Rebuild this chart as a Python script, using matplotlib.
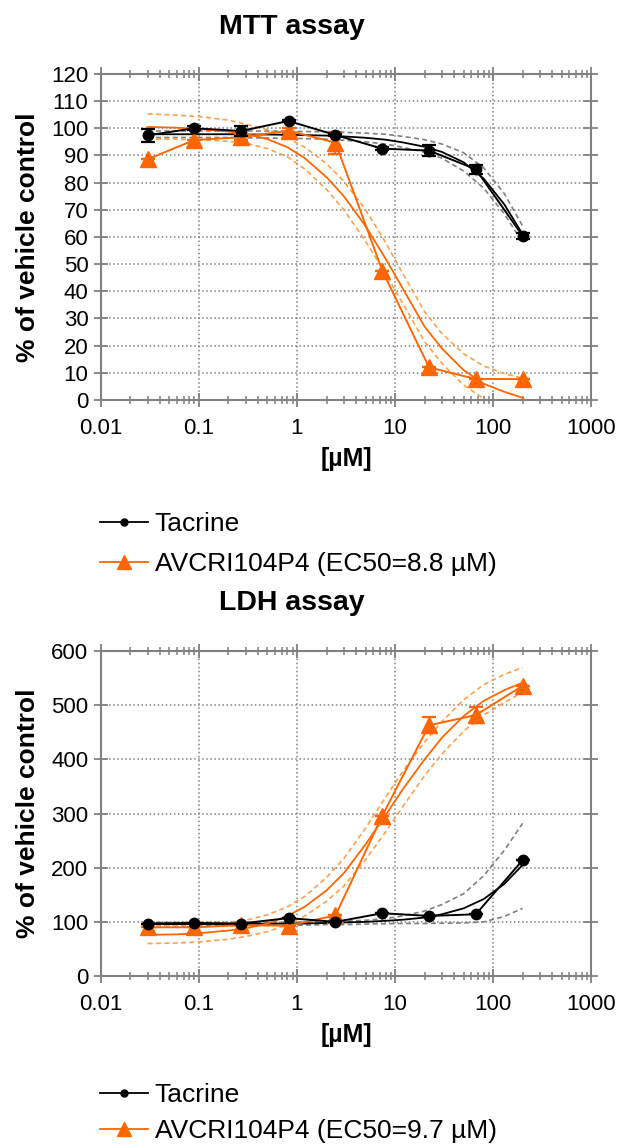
import numpy as np
import matplotlib
matplotlib.use("Agg")
import matplotlib.pyplot as plt
from matplotlib.ticker import FixedLocator, NullFormatter
from matplotlib.lines import Line2D

plt.rcParams['font.family'] = ['Liberation Sans', 'DejaVu Sans']

# concentrations (µM)
conc = [0.03, 0.09, 0.27, 0.82, 2.47, 7.41, 22.2, 66.7, 200]

# MTT assay
mtt_tacrine = [97.4, 100, 99, 102.7, 97.5, 92.5, 91.8, 84.9, 60.4]
mtt_tacrine_err = [2.5, 0.8, 2, 0.5, 0.5, 0.5, 2, 1.7, 1]
mtt_avcri = [88.6, 95.7, 96.7, 99.1, 94.7, 47.6, 12.0, 7.7, 7.7]
mtt_avcri_err = [0, 0, 1, 1, 4, 0, 0, 0, 0]

# LDH assay
ldh_tacrine = [97, 98, 97, 107, 100, 116, 111, 114, 214]
ldh_tacrine_err = [0, 0, 0, 0, 0, 0, 0, 0, 0]
ldh_avcri = [90, 90, 94, 93, 112, 296, 463, 482, 536]
ldh_avcri_err = [0, 0, 0, 0, 0, 0, 15, 15, 0]

# fitted curves and 95% bands
fit_conc = [0.03, 0.06, 0.1, 0.2, 0.3, 0.5, 0.8, 1.2, 2, 3, 5, 8, 12, 20, 30, 50, 80, 130, 200]

mtt_avcri_fit = [100.5, 100.2, 99.7, 98.8, 98, 96, 93, 89, 82, 75, 64, 52, 41, 27, 19, 11, 6, 3, 0.8]
mtt_avcri_hi = [105.3, 104.8, 104.3, 103, 101.5, 99.5, 96.5, 93, 87, 80.5, 70, 58, 46.5, 32.5, 24.5, 17, 12.5, 9.7, 8]
mtt_avcri_lo = [96, 96, 95.7, 95.2, 94.5, 92.5, 89.5, 85, 77.5, 70, 58.5, 46.5, 35.5, 21.5, 13.5, 5.5, 0.5, -4, -7]

mtt_tacrine_fit = [97.8, 97.8, 97.8, 97.8, 97.7, 97.7, 97.6, 97.5, 97.3, 97, 96.5, 95.8, 94.8, 93.2, 91.3, 87.5, 81.5, 72, 61]
mtt_tacrine_hi = [99, 99, 99, 99, 99, 99, 98.9, 98.8, 98.7, 98.5, 98.2, 97.8, 97, 95.8, 94.2, 91, 85.5, 76, 64]
mtt_tacrine_lo = [96.6, 96.6, 96.6, 96.6, 96.5, 96.4, 96.3, 96.2, 96, 95.6, 95, 94.2, 93, 91.2, 89, 84.3, 78, 68.5, 58]

ldh_avcri_fit = [76, 77, 79, 84, 88, 97, 111, 128, 158, 190, 243, 297, 345, 400, 440, 480, 508, 528, 542]
ldh_avcri_hi = [93, 94, 95, 99, 103, 113, 128, 147, 182, 217, 273, 330, 378, 432, 470, 510, 538, 557, 570]
ldh_avcri_lo = [60, 61, 63, 68, 73, 82, 95, 111, 138, 166, 215, 266, 313, 370, 410, 452, 482, 505, 524]

ldh_tacrine_fit = [96, 96, 96, 96, 96.5, 96.5, 97, 97, 98, 99, 100, 102, 104, 108, 114, 125, 142, 170, 205]
ldh_tacrine_hi = [99, 99, 99, 99, 99, 99, 99.5, 99.5, 100, 101, 103, 106, 111, 120, 132, 152, 185, 232, 282]
ldh_tacrine_lo = [93, 93, 93, 93, 93.5, 93.5, 94, 94, 95, 95, 96, 96.5, 97, 97, 97.5, 98, 100, 110, 125]

x_ticks = [0.01, 0.1, 1, 10, 100, 1000]
x_ticklabels = ['0.01', '0.1', '1', '10', '100', '1000']

ORANGE = '#ff6600'
ORANGE_CI = '#ffa04d'
GREY = '#808080'


def panel(ax, ylim, yticks, tac, tac_err, avc, avc_err,
          tfit, thi, tlo, afit, ahi, alo):
    # confidence bands
    ax.plot(fit_conc, thi, '--', color=GREY, lw=1.2, dashes=(3, 2))
    ax.plot(fit_conc, tlo, '--', color=GREY, lw=1.2, dashes=(3, 2))
    ax.plot(fit_conc, ahi, '--', color=ORANGE_CI, lw=1.2, dashes=(3, 2))
    ax.plot(fit_conc, alo, '--', color=ORANGE_CI, lw=1.2, dashes=(3, 2))
    # fits
    ax.plot(fit_conc, tfit, '-', color='black', lw=1.3)
    ax.plot(fit_conc, afit, '-', color=ORANGE, lw=1.3)
    # data
    ax.errorbar(conc, tac, yerr=tac_err, color='black', marker='o', ms=7.5,
                lw=1.4, capsize=5, capthick=1.6, elinewidth=1.6, zorder=5)
    ax.errorbar(conc, avc, yerr=avc_err, color=ORANGE, marker='^', ms=11,
                lw=1.4, capsize=5, capthick=1.6, elinewidth=1.6, zorder=4)

    ax.set_xscale('log')
    ax.set_ylim(*ylim)
    ax.set_yticks(yticks)
    ax.set_xticks(x_ticks)
    ax.set_xticklabels(x_ticklabels)
    minors = [m * 10.0 ** e for e in range(-2, 3) for m in range(2, 10)]
    ax.xaxis.set_minor_locator(FixedLocator(minors))
    ax.xaxis.set_minor_formatter(NullFormatter())
    ax.set_xlim(0.01, 1000)
    ax.grid(True, which='major', color=GREY, ls=':', lw=1.1)
    for s in ax.spines.values():
        s.set_color(GREY)
        s.set_linewidth(1.5)
    ax.tick_params(which='both', direction='inout', top=True, right=True,
                   color=GREY, labelsize=16)
    ax.tick_params(axis='x', pad=8)
    ax.tick_params(axis='y', pad=4)
    ax.tick_params(which='major', length=10, width=1.3)
    ax.tick_params(which='minor', length=6, width=1.1)
    ax.set_xlabel('[\u00b5M]', fontsize=18, fontweight='bold', labelpad=6)
    ax.set_ylabel('% of vehicle control', fontsize=19, fontweight='bold', labelpad=8)


fig = plt.figure(figsize=(6.19, 11.48), dpi=100)
ax1 = fig.add_axes([0.163, 0.6516, 0.792, 0.284])
ax2 = fig.add_axes([0.163, 0.1498, 0.792, 0.283])

panel(ax1, (0, 120), np.arange(0, 121, 10),
      mtt_tacrine, mtt_tacrine_err, mtt_avcri, mtt_avcri_err,
      mtt_tacrine_fit, mtt_tacrine_hi, mtt_tacrine_lo,
      mtt_avcri_fit, mtt_avcri_hi, mtt_avcri_lo)
panel(ax2, (0, 600), np.arange(0, 601, 100),
      ldh_tacrine, ldh_tacrine_err, ldh_avcri, ldh_avcri_err,
      ldh_tacrine_fit, ldh_tacrine_hi, ldh_tacrine_lo,
      ldh_avcri_fit, ldh_avcri_hi, ldh_avcri_lo)

fig.text(292 / 619, 1 - 27 / 1148, 'MTT assay', ha='center', va='center',
         fontsize=20.5, fontweight='bold')
fig.text(292 / 619, 1 - 603 / 1148, 'LDH assay', ha='center', va='center',
         fontsize=20.5, fontweight='bold')


def add_legend(ax, label2, y, spacing):
    h = [Line2D([], [], color='black', marker='o', ms=5, lw=1.3),
         Line2D([], [], color=ORANGE, marker='^', ms=10, lw=1.3)]
    ax.legend(h, ['Tacrine', label2], loc='upper left', frameon=False,
              bbox_to_anchor=(100 / 619, y), bbox_transform=fig.transFigure,
              fontsize=19, handlelength=1.8, handletextpad=0.27,
              labelspacing=spacing, borderaxespad=0, borderpad=0)


add_legend(ax1, 'AVCRI104P4 (EC50=8.8 \u00b5M)', 1 - 512 / 1148, 0.6)
add_legend(ax2, 'AVCRI104P4 (EC50=9.7 \u00b5M)', 1 - 1083 / 1148, 0.45)

fig.savefig('out.png', dpi=100)
